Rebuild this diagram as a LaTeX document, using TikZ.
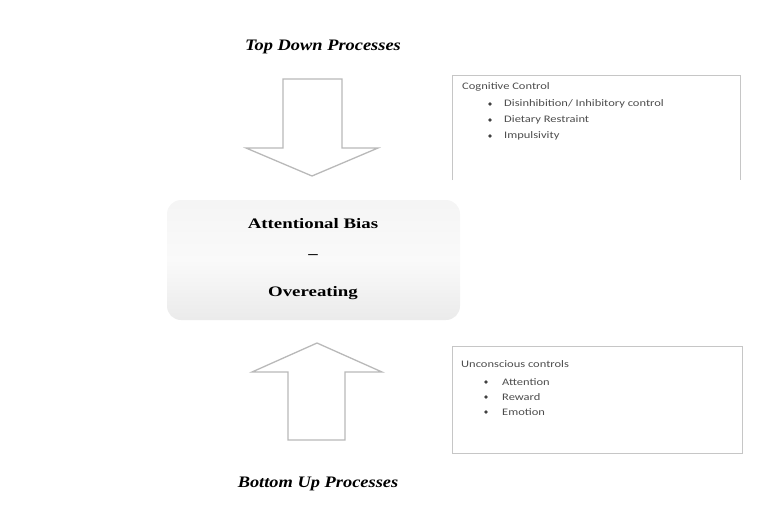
\documentclass[tikz,border=0pt]{standalone}
\usepackage{fontspec}
\setmainfont{Liberation Serif}
\newfontfamily\boxfont[FakeStretch=1.25]{Carlito}
\newfontfamily\procfont[FakeStretch=1.15]{Liberation Serif}
\newfontfamily\centfont[FakeStretch=1.3]{Liberation Serif}
\begin{document}
\begin{tikzpicture}[x=1pt,y=-1pt,
  bigarrow/.style={draw=gray!55,line width=1.3pt,fill=white,line join=miter},
  infobox/.style={draw=gray!45,line width=0.6pt},
  boxtext/.style={font=\boxfont\fontsize{10}{12}\selectfont,text=black!70,anchor=west,inner sep=0pt},
  bullet/.style={circle,fill=black!75,inner sep=0pt,minimum size=3.6pt},
  proc/.style={font=\procfont\bfseries\itshape\fontsize{16}{18}\selectfont,inner sep=0pt},
  central/.style={font=\centfont\bfseries\fontsize{14.5}{16}\selectfont,inner sep=0pt}]
\useasboundingbox (0,0) rectangle (768,523);
% titles
\node[proc] (top) at (323,47) {Top Down Processes};
\node[proc] (bot) at (318,484) {Bottom Up Processes};
% top arrow
\draw[bigarrow] (283,79) -- (342,79) -- (342,148) -- (378,148) -- (312,176) -- (246,148) -- (283,148) -- cycle;
% bottom arrow
\draw[bigarrow] (288,440) -- (345,440) -- (345,372) -- (382,372) -- (317,343) -- (252,372) -- (288,372) -- cycle;
% central box
\shade[rounded corners=14pt,top color=gray!8,bottom color=gray!16,middle color=gray!4] (167,200) rectangle (460,320);
\node[central] (ab) at (313,224) {Attentional Bias};
\node[central] (dash) at (313,257) {–};
\node[central] (oe) at (313,293) {Overeating};
% cognitive control box
\draw[infobox] (452,180) -- (452,75) -- (740,75) -- (740,180);
\node[boxtext] (cc) at (462,87) {Cognitive Control};
\node[bullet] (b1) at (490,104) {};
\node[boxtext] (t1) at (504,104) {Disinhibition/ Inhibitory control};
\node[bullet] (b2) at (490,120) {};
\node[boxtext] (t2) at (504,120) {Dietary Restraint};
\node[bullet] (b3) at (490,136) {};
\node[boxtext] (t3) at (504,136) {Impulsivity};
% unconscious control box
\draw[infobox] (452,346) rectangle (742,453);
\node[boxtext] (uc) at (461,364) {Unconscious controls};
\node[bullet] (c1) at (486,382) {};
\node[boxtext] (u1) at (502,382) {Attention};
\node[bullet] (c2) at (486,397) {};
\node[boxtext] (u2) at (502,397) {Reward};
\node[bullet] (c3) at (486,412) {};
\node[boxtext] (u3) at (502,412) {Emotion};
\end{tikzpicture}
\end{document}
